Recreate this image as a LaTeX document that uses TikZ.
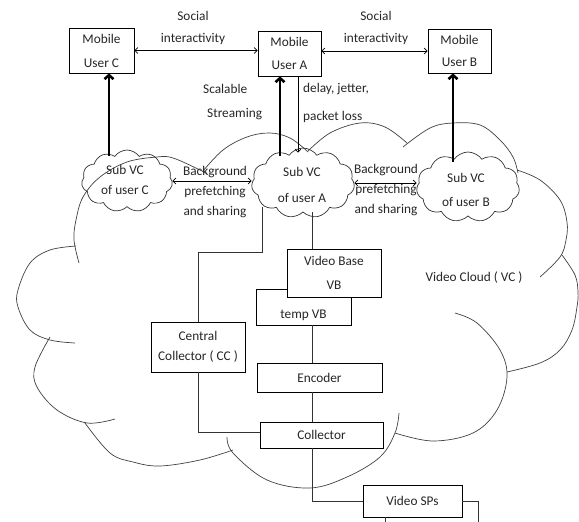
\documentclass[tikz,border=0pt]{standalone}
\usepackage{fontspec}
\setmainfont{Carlito}
\usetikzlibrary{arrows.meta,shapes.symbols}
\begin{document}
\begin{tikzpicture}[x=1pt,y=-1pt,
  every node/.style={font=\fontsize{13.3}{22}\selectfont, text=black!85},
  box/.style={draw, line width=0.8pt, fill=white, align=center, inner sep=0pt},
  lbl/.style={align=center, inner sep=0pt},
  subvc/.style={draw, cloud, cloud puffs=11, cloud puff arc=110, cloud ignores aspect, line width=0.7pt, inner sep=0pt, black!80},
  vc/.style={line width=0.7pt, black!75, smooth, tension=0.6},
  link/.style={line width=0.8pt, black!80},
  biarrow/.style={line width=0.7pt, {Straight Barb[length=3pt,width=6pt]}-{Straight Barb[length=3pt,width=6pt]}},
  bigarrow/.style={line width=2.6pt, -{Straight Barb[length=4pt,width=9pt]}},
  thinarrow/.style={line width=0.7pt, -{Straight Barb[length=3pt,width=6pt]}}
]
\useasboundingbox (0,0) rectangle (579,522);

% big video cloud
\draw[vc] plot coordinates {(79,263) (74,240) (76,220) (83,197) (100,177) (127,162) (157,157) (173,158) (200,170) (207,174)};
\draw[vc] plot coordinates {(203,171) (223,150) (247,137) (270,133) (290,138) (307,151)};
\draw[vc] plot coordinates {(307,152) (330,133) (360,123) (385,127) (407,143)};
\draw[vc] plot coordinates {(403,147) (430,128) (453,123) (480,125) (500,140) (513,157) (518,173)};
\draw[vc] plot coordinates {(517,170) (540,180) (560,200) (567,222) (566,240) (560,257) (540,277)};
\draw[vc] plot coordinates {(562,255) (575,275) (578,292) (577,307) (572,330) (560,350) (540,363) (507,372)};
\draw[vc] plot coordinates {(455,313) (477,323) (500,350) (507,377) (497,410) (473,433) (433,441) (395,433)};
\draw[vc] plot coordinates {(399,413) (395,433) (380,457) (347,477) (310,488) (267,480) (233,453) (227,437)};
\draw[vc] plot coordinates {(85,423) (110,453) (133,462) (160,466) (200,460) (233,450)};
\draw[vc] plot coordinates {(50,337) (35,367) (37,387) (57,410) (87,423) (115,419)};
\draw[vc] plot coordinates {(76,246) (50,250) (30,263) (18,290) (18,307) (30,330) (50,340) (75,343)};

% mobile users
\node[box, minimum width=65pt, minimum height=45pt, font=\fontsize{13.3}{24}\selectfont] (userC) at (101.5,50.5) {Mobile\\User C};
\node[box, minimum width=63pt, minimum height=45pt, font=\fontsize{13.3}{23}\selectfont] (userA) at (289.5,53.5) {Mobile\\User A};
\node[box, minimum width=63pt, minimum height=44pt, font=\fontsize{13.3}{22}\selectfont] (userB) at (459.5,51) {Mobile\\User B};

% sub video clouds
\node[subvc, minimum width=91pt, minimum height=62pt] (subC) at (127,181) {};
\node[subvc, minimum width=103pt, minimum height=70pt] (subA) at (303,183) {};
\node[subvc, minimum width=103pt, minimum height=70pt] (subB) at (468,187) {};
\node[lbl, font=\fontsize{13.3}{20}\selectfont] (subCt) at (125,180) {Sub VC\\of user C};
\node[lbl, font=\fontsize{13.3}{26}\selectfont] (subAt) at (302,185) {Sub VC\\of user A};
\node[lbl, font=\fontsize{13.3}{24}\selectfont] (subBt) at (466,190) {Sub VC\\of user B};

% lower boxes
\node[box, minimum width=95pt, minimum height=36pt] (tvb) at (303.5,307) {\raisebox{-11pt}[0pt][0pt]{temp VB}};
\node[box, minimum width=94pt, minimum height=48pt, font=\fontsize{13.3}{24}\selectfont] (vb) at (334,273) {Video Base\\VB};
\node[box, minimum width=94pt, minimum height=50pt, font=\fontsize{13.3}{20}\selectfont] (cc) at (198,347) {Central\\Collector ( CC )};
\node[box, minimum width=125pt, minimum height=29pt] (enc) at (319.5,377.5) {Encoder};
\node[box, minimum width=123pt, minimum height=26pt] (coll) at (321.5,435) {Collector};
\node[box, minimum width=99pt, minimum height=32pt] (vsp) at (412.5,501) {Video SPs};

% labels
\node[lbl] (soc1) at (193,28) {Social\\interactivity};
\node[lbl] (soc2) at (376,28) {Social\\interactivity};
\node[lbl, align=left, anchor=west, font=\fontsize{13.3}{24}\selectfont] (scal) at (203,102) {Scalable\\\hspace*{4pt}Streaming};
\node[lbl, align=left, anchor=west, font=\fontsize{13.3}{28}\selectfont] (dly) at (303,103) {delay, jetter,\\packet loss};
\node[lbl, font=\fontsize{13.3}{20}\selectfont] (bg1) at (215,192) {Background\\prefetching\\and sharing};
\node[lbl, font=\fontsize{13.3}{20}\selectfont] (bg2) at (386,190) {Background\\prefetching\\and sharing};
\node[lbl] (vcl) at (474,278) {Video Cloud ( VC )};

% connectors
\draw[biarrow] (userC.east) -- (userC.east -| userA.west);
\draw[biarrow] (userB.west -| userA.east) -- (userB.west);
\draw[biarrow] (subC.east) -- (subC.east -| subA.west);
\draw[biarrow] (subA.east) -- (subA.east -| subB.west);
\draw[bigarrow] ([xshift=7.5pt,yshift=-6pt]userC.south |- subC.north) -- ([xshift=7.5pt]userC.south);
\draw[bigarrow] ([xshift=-9.5pt,yshift=-8pt]userA.south |- subA.north) -- ([xshift=-9.5pt]userA.south);
\draw[bigarrow] ([xshift=-6.5pt,yshift=-10pt]userB.south |- subB.north) -- ([xshift=-6.5pt]userB.south);
\draw[thinarrow] ([xshift=8.5pt]userA.south) -- ([xshift=8.5pt,yshift=-5pt]userA.south |- subA.north);

\draw[link] ([xshift=-22pt]vb.north |- subA.south) -- ([xshift=-22pt]vb.north);
\coordinate (k1) at (262,252);
\draw[link] ([yshift=5pt]k1 |- subA.south) -- (k1) -| (cc.north);
\draw[link] ([xshift=8.5pt]tvb.south) -- ([xshift=8.5pt]tvb.south |- enc.north);
\draw[link] ([xshift=-7.5pt]enc.south) -- ([xshift=-7.5pt]enc.south |- coll.north);
\draw[link] (cc.south) |- ([yshift=3pt]coll.west);
\draw[link] ([xshift=-9.5pt]coll.south) |- (vsp.west);
\coordinate (o1) at (478,522);
\coordinate (o2) at (385,522);
\draw[link] (vsp.east) -| (o1);
\draw[link] (o2 |- vsp.south) -- (o2);
\end{tikzpicture}
\end{document}
